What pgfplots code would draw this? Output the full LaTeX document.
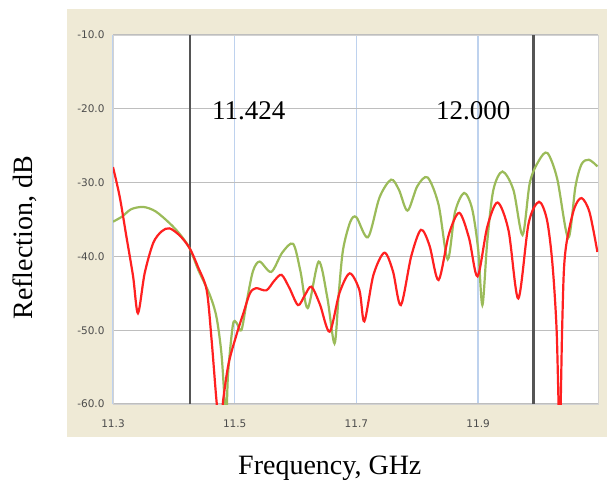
\documentclass[border=0pt]{standalone}
\usepackage{fontspec}
\setmainfont{Liberation Serif}
\newfontfamily\tickfont{DejaVu Sans}
\usepackage{pgfplots}
\pgfplotsset{compat=1.18}

\definecolor{panel}{RGB}{239,234,214}
\definecolor{redline}{RGB}{255,32,32}
\definecolor{greenline}{RGB}{155,187,89}
\definecolor{bluegrid}{RGB}{190,210,238}
\definecolor{graygrid}{RGB}{190,190,190}
\definecolor{marker}{RGB}{85,85,85}

\begin{document}
\begin{tikzpicture}[x=1pt,y=1pt]
\fill[white] (0,0) rectangle (607,482);
\useasboundingbox (0,0) rectangle (607,482);
\fill[panel] (67,45) rectangle (607,473);
\begin{axis}[
  at={(113pt,78pt)}, anchor=south west,
  scale only axis, width=485pt, height=369pt,
  xmin=11.3, xmax=12.097, ymin=-60, ymax=-10,
  axis background/.style={fill=white},
  axis line style={draw=gray!35, line width=1pt},
  xtick={11.3,11.5,11.7,11.9},
  xticklabels={11.3,11.5,11.7,11.9},
  ytick={-60,-50,-40,-30,-20,-10},
  yticklabels={-60.0,-50.0,-40.0,-30.0,-20.0,-10.0},
  major tick length=0pt,
  xmajorgrids, ymajorgrids,
  x grid style={bluegrid, line width=1.3pt},
  y grid style={graygrid, line width=1.3pt},
  tick label style={font=\tickfont\fontsize{10.5}{12}\selectfont, text=gray!60!black},
  xticklabel style={yshift=-12pt},
  yticklabel style={xshift=-5pt},
  xlabel={Frequency, GHz},
  ylabel={Reflection, dB},
  label style={font=\fontsize{28}{32}\selectfont},
  xlabel style={at={(axis description cs:0.447,-0.192)}, anchor=base},
  ylabel style={at={(axis description cs:-0.165,0.45)}, anchor=base},
]
% marker lines
\addplot[marker, line width=2.2pt] coordinates {(11.426,-60) (11.426,-10)};
\addplot[marker, line width=2.2pt] coordinates {(11.991,-60) (11.991,-10)};

% green trace
\addplot[greenline, line width=2.2pt, smooth, tension=0.5] coordinates {
(11.300,-35.3) (11.315,-34.6) (11.330,-33.6) (11.350,-33.3) (11.370,-33.9)
(11.393,-35.5) (11.410,-37.0) (11.426,-38.9) (11.440,-41.8) (11.459,-45.2)
(11.470,-48.2) (11.478,-53.0) (11.483,-59.0) (11.486,-63.0) (11.489,-56.0)
(11.497,-49.3) (11.503,-49.0) (11.511,-50.0) (11.520,-46.0) (11.530,-42.0)
(11.541,-40.7) (11.560,-42.1) (11.578,-39.5) (11.596,-38.3) (11.608,-42.0)
(11.620,-47.0) (11.638,-40.7) (11.652,-45.5) (11.664,-51.8) (11.671,-45.0)
(11.678,-39.1) (11.690,-35.3) (11.700,-34.7) (11.719,-37.4) (11.738,-32.0)
(11.757,-29.6) (11.770,-31.0) (11.784,-33.8) (11.800,-30.5) (11.817,-29.3)
(11.835,-33.0) (11.850,-40.4) (11.862,-34.0) (11.877,-31.4) (11.890,-33.5)
(11.900,-39.0) (11.907,-46.6) (11.915,-38.0) (11.925,-31.0) (11.940,-28.5)
(11.958,-31.0) (11.973,-37.1) (11.985,-30.0) (12.000,-27.0) (12.014,-26.0)
(12.030,-29.5) (12.048,-37.5) (12.060,-30.5) (12.070,-27.5) (12.082,-26.9)
(12.096,-27.8)
};

% red trace
\addplot[redline, line width=2.2pt, smooth, tension=0.5] coordinates {
(11.300,-27.9) (11.311,-31.9) (11.322,-37.3) (11.333,-42.7) (11.341,-47.7)
(11.352,-42.3) (11.366,-38.2) (11.380,-36.6) (11.393,-36.2) (11.410,-37.2)
(11.426,-38.9) (11.440,-41.5) (11.454,-44.6) (11.462,-51.3) (11.470,-59.5)
(11.476,-64.0) (11.481,-59.5) (11.490,-54.5) (11.503,-50.6) (11.515,-47.5)
(11.525,-45.0) (11.535,-44.3) (11.552,-44.6) (11.565,-43.3) (11.577,-42.5)
(11.590,-44.3) (11.604,-46.6) (11.615,-45.3) (11.626,-44.1) (11.640,-46.5)
(11.656,-50.2) (11.672,-45.0) (11.689,-42.3) (11.705,-44.6) (11.713,-48.8)
(11.728,-42.5) (11.746,-39.5) (11.760,-42.0) (11.773,-46.6) (11.790,-40.0)
(11.806,-36.4) (11.820,-38.5) (11.835,-43.2) (11.852,-37.0) (11.869,-34.1)
(11.885,-37.5) (11.899,-42.7) (11.915,-36.0) (11.932,-32.7) (11.950,-36.5)
(11.966,-45.7) (11.983,-35.5) (12.000,-32.6) (12.013,-35.0) (12.022,-40.9)
(12.029,-50.0) (12.034,-64.0) (12.038,-50.0) (12.041,-41.8) (12.046,-37.8)
(12.058,-33.5) (12.070,-32.1) (12.083,-34.0) (12.096,-39.4)
};

\node[font=\fontsize{27}{32}\selectfont, anchor=base] at (axis cs:11.523,-21.5) {11.424};
\node[font=\fontsize{27}{32}\selectfont, anchor=base] at (axis cs:11.892,-21.4) {12.000};
\end{axis}
\end{tikzpicture}
\end{document}
